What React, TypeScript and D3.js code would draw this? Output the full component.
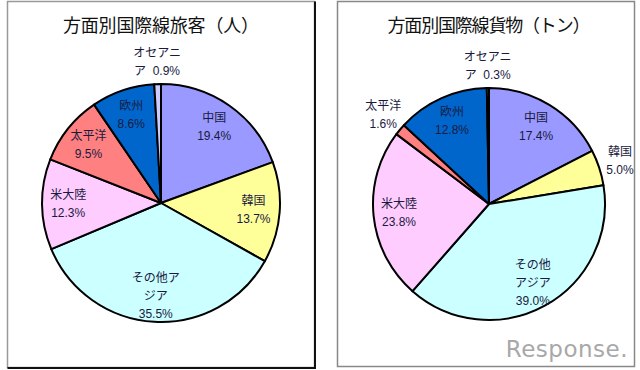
import React from 'react';
import * as d3 from 'd3';

// slice order: clockwise from 12 o'clock
const categories = ['中国', '韓国', 'その他アジア', '米大陸', '太平洋', '欧州', 'オセアニア'];
const passengerShares = [19.4, 13.7, 35.5, 12.3, 9.5, 8.6, 0.9];
const cargoShares = [17.4, 5.0, 39.0, 23.8, 1.6, 12.8, 0.3];

// label text, "|" = line break, {p} = percent
const passengerLabels = ['中国|{p}', '韓国|{p}', 'その他ア|ジア|{p}', '米大陸|{p}', '太平洋|{p}', '欧州|{p}', 'オセアニ|ア\u00a0\u00a0{p}'];
const cargoLabels = ['中国|{p}', '韓国|{p}', 'その他|アジア|{p}', '米大陸|{p}', '太平洋|{p}', '欧州|{p}', 'オセアニ|ア\u00a0\u00a0{p}'];

const sliceColors = ['#9999FF', '#FFFF99', '#CCFFFF', '#FFCCFF', '#FF8080', '#0066CC', '#CCCCFF'];

const labelFont = '"Liberation Sans", Arial, "Noto Sans CJK JP", sans-serif';
const titleFont = '"Noto Sans CJK JP", sans-serif';

type PieProps = {
  title: string;
  titleWidth: number;
  values: number[];
  labels: string[];
  cx: number;
  cy: number;
  radius: number;
};

const PieChart = ({ title, titleWidth, values, labels, cx, cy, radius }: PieProps) => {
  const pie = d3.pie<number>().sort(null).value((d) => d);
  const arcs = pie(values);
  const arc = d3.arc<d3.PieArcDatum<number>>().innerRadius(0).outerRadius(radius);

  return (
    <g>
      <text
        x={cx}
        y={32}
        textAnchor="middle"
        fontSize={18}
        fontFamily={titleFont}
        textLength={titleWidth}
        lengthAdjust="spacing"
        fill="#111"
      >
        {title}
      </text>
      <g transform={`translate(${cx},${cy})`}>
        {arcs.map((a, i) => (
          <path key={categories[i]} d={arc(a) || ''} fill={sliceColors[i]} stroke="#000" strokeWidth={2} strokeLinejoin="round" />
        ))}
        {arcs.map((a, i) => {
          const mid = (a.startAngle + a.endAngle) / 2;
          const outside = a.data < 6;
          const dist = outside ? radius + 22 : radius * 0.78;
          const x = Math.sin(mid) * dist;
          const y = -Math.cos(mid) * dist;
          const lines = labels[i].replace('{p}', `${a.data.toFixed(1)}%`).split('|');
          return (
            <text key={'l' + i} textAnchor="middle" fontSize={12} fontFamily={labelFont} fill="#1a1a40">
              {lines.map((ln, j) => (
                <tspan key={j} x={x} y={y + (j - (lines.length - 1) / 2) * 18} dominantBaseline="central">
                  {ln}
                </tspan>
              ))}
            </text>
          );
        })}
      </g>
    </g>
  );
};

export default function App() {
  return (
    <div style={{ position: 'absolute', left: 0, top: 0 }}>
      <svg width={640} height={370} style={{ display: 'block', background: '#fff' }}>
        {/* left panel frame */}
        <rect x={7.5} y={1.5} width={307} height={366} fill="#fff" stroke="#999" strokeWidth={1.5} />
        <path d="M315,1.5 V368 H7.5" fill="none" stroke="#111" strokeWidth={2} />
        {/* right panel frame */}
        <rect x={337.5} y={1.5} width={297} height={365} fill="#fff" stroke="#888" strokeWidth={1.5} />

        <PieChart
          title="方面別国際線旅客（人）"
          titleWidth={196}
          values={passengerShares}
          labels={passengerLabels}
          cx={161}
          cy={203}
          radius={119}
        />
        <PieChart
          title="方面別国際線貨物（トン）"
          titleWidth={203}
          values={cargoShares}
          labels={cargoLabels}
          cx={489}
          cy={204}
          radius={116}
        />

        <text x={628} y={357} textAnchor="end" fontSize={23} fontFamily='"DejaVu Sans", sans-serif' fill="#a8a8a8" letterSpacing={0.5}>
          Response.
        </text>
      </svg>
    </div>
  );
}
